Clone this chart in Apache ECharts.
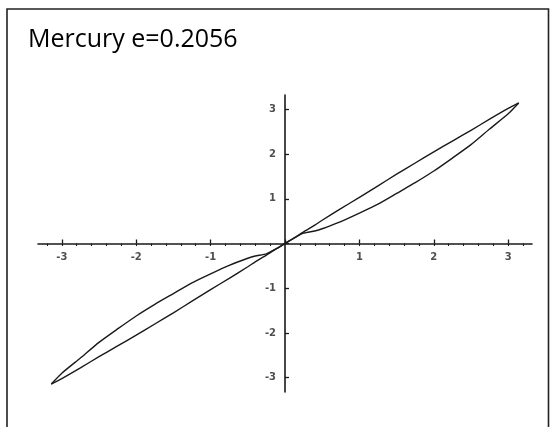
<!DOCTYPE html>
<html>
<head>
<meta charset="utf-8">
<script src="https://cdn.jsdelivr.net/npm/echarts@6/dist/echarts.min.js"></script>
<style>
  html, body { margin: 0; padding: 0; background: #fff; }
  #chart { width: 555px; height: 427px; }
</style>
</head>
<body>
<div id="chart"></div>
<script>
// Anomaly values (radians) shared by both curves
const anomalyX = [-3.1416, -3, -2.75, -2.5, -2.25, -2, -1.75, -1.5, -1.25, -1, -0.75, -0.5, -0.4, -0.25, -0.12,
                  0, 0.12, 0.25, 0.4, 0.5, 0.75, 1, 1.25, 1.5, 1.75, 2, 2.25, 2.5, 2.75, 3, 3.1416];
// Curve below the diagonal for positive x
const curveA = [-3.1416, -2.9, -2.56, -2.21, -1.91, -1.62, -1.36, -1.12, -0.88, -0.68, -0.49, -0.33, -0.28, -0.23, -0.12,
                0, 0.12, 0.23, 0.28, 0.33, 0.49, 0.68, 0.88, 1.12, 1.36, 1.62, 1.91, 2.21, 2.56, 2.9, 3.1416];
// Curve above the diagonal for positive x
const curveB = [-3.1416, -3.02, -2.78, -2.53, -2.29, -2.05, -1.8, -1.55, -1.29, -1.03, -0.78, -0.52, -0.41, -0.26, -0.12,
                0, 0.12, 0.26, 0.41, 0.52, 0.78, 1.03, 1.29, 1.55, 1.8, 2.05, 2.29, 2.53, 2.78, 3.02, 3.1416];

const majorTicks = [-3, -2, -1, 0, 1, 2, 3];
const tickLabels = [-3, -2, -1, 1, 2, 3];
const minorTicks = [-3.2, -3.0, -2.8, -2.6, -2.4, -2.2, -2.0, -1.8, -1.6, -1.4, -1.2, -1.0, -0.8, -0.6, -0.4, -0.2,
                    0.2, 0.4, 0.6, 0.8, 1.0, 1.2, 1.4, 1.6, 1.8, 2.0, 2.2, 2.4, 2.6, 2.8, 3.0, 3.2];

const axisRange = 3.32;
const ink = '#1a1a1a';
const labelText = { fontSize: 10, fontWeight: 'bold', color: '#222', fontFamily: 'DejaVu Sans' };

const chart = echarts.init(document.getElementById('chart'), null, { renderer: 'canvas' });

chart.setOption({
  animation: false,
  backgroundColor: '#fff',
  title: {
    text: 'Mercury e=0.2056',
    left: 23,
    top: 22,
    textStyle: { fontFamily: 'Open Sans', fontSize: 25, fontWeight: 'normal', color: '#000' }
  },
  graphic: [{
    type: 'rect',
    silent: true,
    shape: { x: 7, y: 9, width: 541.5, height: 440 },
    style: { fill: 'none', stroke: '#222', lineWidth: 1.6 }
  }],
  grid: { left: 38, right: 23, top: 95, bottom: 35 },
  xAxis: [{
    type: 'value',
    min: -axisRange,
    max: axisRange,
    splitLine: { show: false },
    axisLine: { onZero: true, onZeroAxisIndex: 0, lineStyle: { color: ink, width: 1.6 } },
    axisTick: { inside: true, length: 4, customValues: majorTicks, lineStyle: { color: ink, width: 1.3 } },
    axisLabel: { show: false }
  }, {
    type: 'value',
    min: -axisRange,
    max: axisRange,
    splitLine: { show: false },
    axisLine: { show: true, onZero: true, onZeroAxisIndex: 0, lineStyle: { color: 'rgba(0,0,0,0)', width: 0 } },
    axisTick: { inside: true, length: 2.5, customValues: minorTicks, lineStyle: { color: ink, width: 1.1 } },
    axisLabel: { show: false }
  }],
  yAxis: {
    type: 'value',
    min: -axisRange,
    max: axisRange,
    splitLine: { show: false },
    axisLine: { onZero: true, onZeroAxisIndex: 0, lineStyle: { color: ink, width: 1.6 } },
    axisTick: { inside: true, length: 4, customValues: majorTicks, lineStyle: { color: ink, width: 1.3 } },
    axisLabel: { show: false }
  },
  series: [{
    type: 'line',
    name: 'A',
    data: anomalyX.map((x, i) => [x, curveA[i]]),
    showSymbol: false,
    smooth: 0.2,
    lineStyle: { color: ink, width: 1.4 }
  }, {
    type: 'line',
    name: 'B',
    data: anomalyX.map((x, i) => [x, curveB[i]]),
    showSymbol: false,
    smooth: 0.2,
    lineStyle: { color: ink, width: 1.4 }
  }, {
    // tick labels under the horizontal axis through the origin
    type: 'scatter',
    silent: true,
    symbolSize: 0,
    data: tickLabels.map(v => [v, 0]),
    label: Object.assign({ show: true, position: 'bottom', distance: 9, formatter: p => String(p.value[0]) }, labelText)
  }, {
    // tick labels to the left of the vertical axis through the origin
    type: 'scatter',
    silent: true,
    symbolSize: 0,
    data: tickLabels.map(v => [0, v]),
    label: Object.assign({ show: true, position: 'left', distance: 9, formatter: p => String(p.value[1]) }, labelText)
  }]
});
</script>
</body>
</html>
